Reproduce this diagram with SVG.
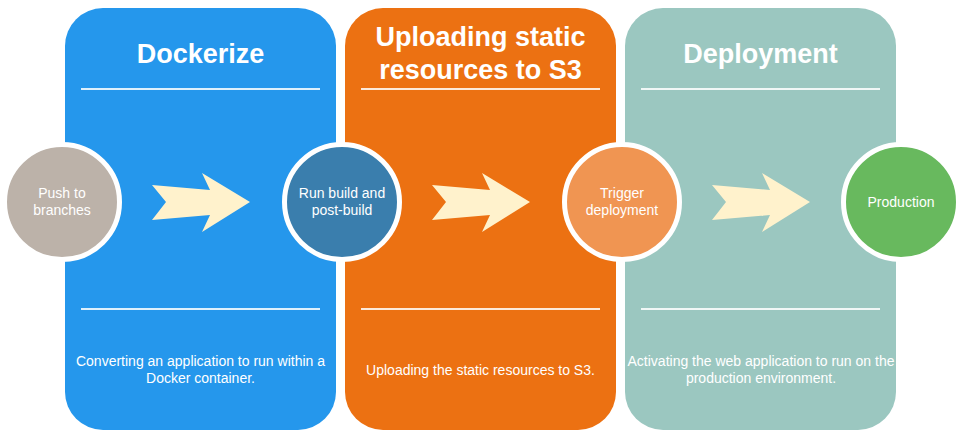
<svg xmlns="http://www.w3.org/2000/svg" width="961" height="438" viewBox="0 0 961 438">
<style>
.title{font-family:"Liberation Sans",Arial,sans-serif;font-weight:bold;font-size:27px;fill:#fff;text-anchor:middle}
.desc{font-family:"Liberation Sans",Arial,sans-serif;font-size:14px;fill:#fff;text-anchor:middle}
.ctext{font-family:"Liberation Sans",Arial,sans-serif;font-size:14px;fill:#fff;text-anchor:middle}
.sep{stroke:#fff;stroke-opacity:0.85;stroke-width:2}
.ring{stroke:#fff;stroke-width:5}
.arrow{fill:#FFF2CC}
</style>
<defs>
<polygon id="arr" class="arrow" points="0,-17 14,0 0,18 58,13 50,30 98,0 50,-29 58,-12"/>
</defs>
<rect width="961" height="438" fill="#fff"/>
<g id="panel-dockerize">
<rect x="65" y="8" width="271" height="422" rx="38" ry="38" fill="#2597EC"/>
<text class="title" x="200.5" y="63">Dockerize</text>
<line class="sep" x1="81" y1="89" x2="320" y2="89"/>
<line class="sep" x1="81" y1="309" x2="320" y2="309"/>
<text class="desc" x="200.5" y="366">Converting an application to run within a</text>
<text class="desc" x="200.5" y="383">Docker container.</text>
</g>
<g id="panel-upload">
<rect x="345" y="8" width="271" height="422" rx="38" ry="38" fill="#EC7112"/>
<text class="title" x="480.5" y="46">Uploading static</text>
<text class="title" x="480.5" y="79">resources to S3</text>
<line class="sep" x1="361" y1="89" x2="600" y2="89"/>
<line class="sep" x1="361" y1="309" x2="600" y2="309"/>
<text class="desc" x="480.5" y="375">Uploading the static resources to S3.</text>
</g>
<g id="panel-deployment">
<rect x="625" y="8" width="271" height="422" rx="38" ry="38" fill="#9BC7C0"/>
<text class="title" x="760.5" y="63">Deployment</text>
<line class="sep" x1="641" y1="89" x2="880" y2="89"/>
<line class="sep" x1="641" y1="309" x2="880" y2="309"/>
<text class="desc" x="761" y="366">Activating the web application to run on the</text>
<text class="desc" x="761" y="383">production environment.</text>
</g>
<g id="connectors">
<use href="#arr" x="152" y="202"/>
<use href="#arr" x="432" y="202"/>
<use href="#arr" x="712" y="202"/>
</g>
<g id="node-push">
<circle class="ring" cx="62" cy="202" r="57.5" fill="#BCB2A9"/>
<text class="ctext" x="62" y="198">Push to</text>
<text class="ctext" x="62" y="215">branches</text>
</g>
<g id="node-build">
<circle class="ring" cx="342" cy="202" r="57.5" fill="#3A7EAD"/>
<text class="ctext" x="342" y="198">Run build and</text>
<text class="ctext" x="342" y="215">post-build</text>
</g>
<g id="node-trigger">
<circle class="ring" cx="622" cy="202" r="57.5" fill="#F09552"/>
<text class="ctext" x="622" y="198">Trigger</text>
<text class="ctext" x="622" y="215">deployment</text>
</g>
<g id="node-production">
<circle class="ring" cx="901" cy="202" r="57.5" fill="#68B95E"/>
<text class="ctext" x="901" y="207">Production</text>
</g>
</svg>
